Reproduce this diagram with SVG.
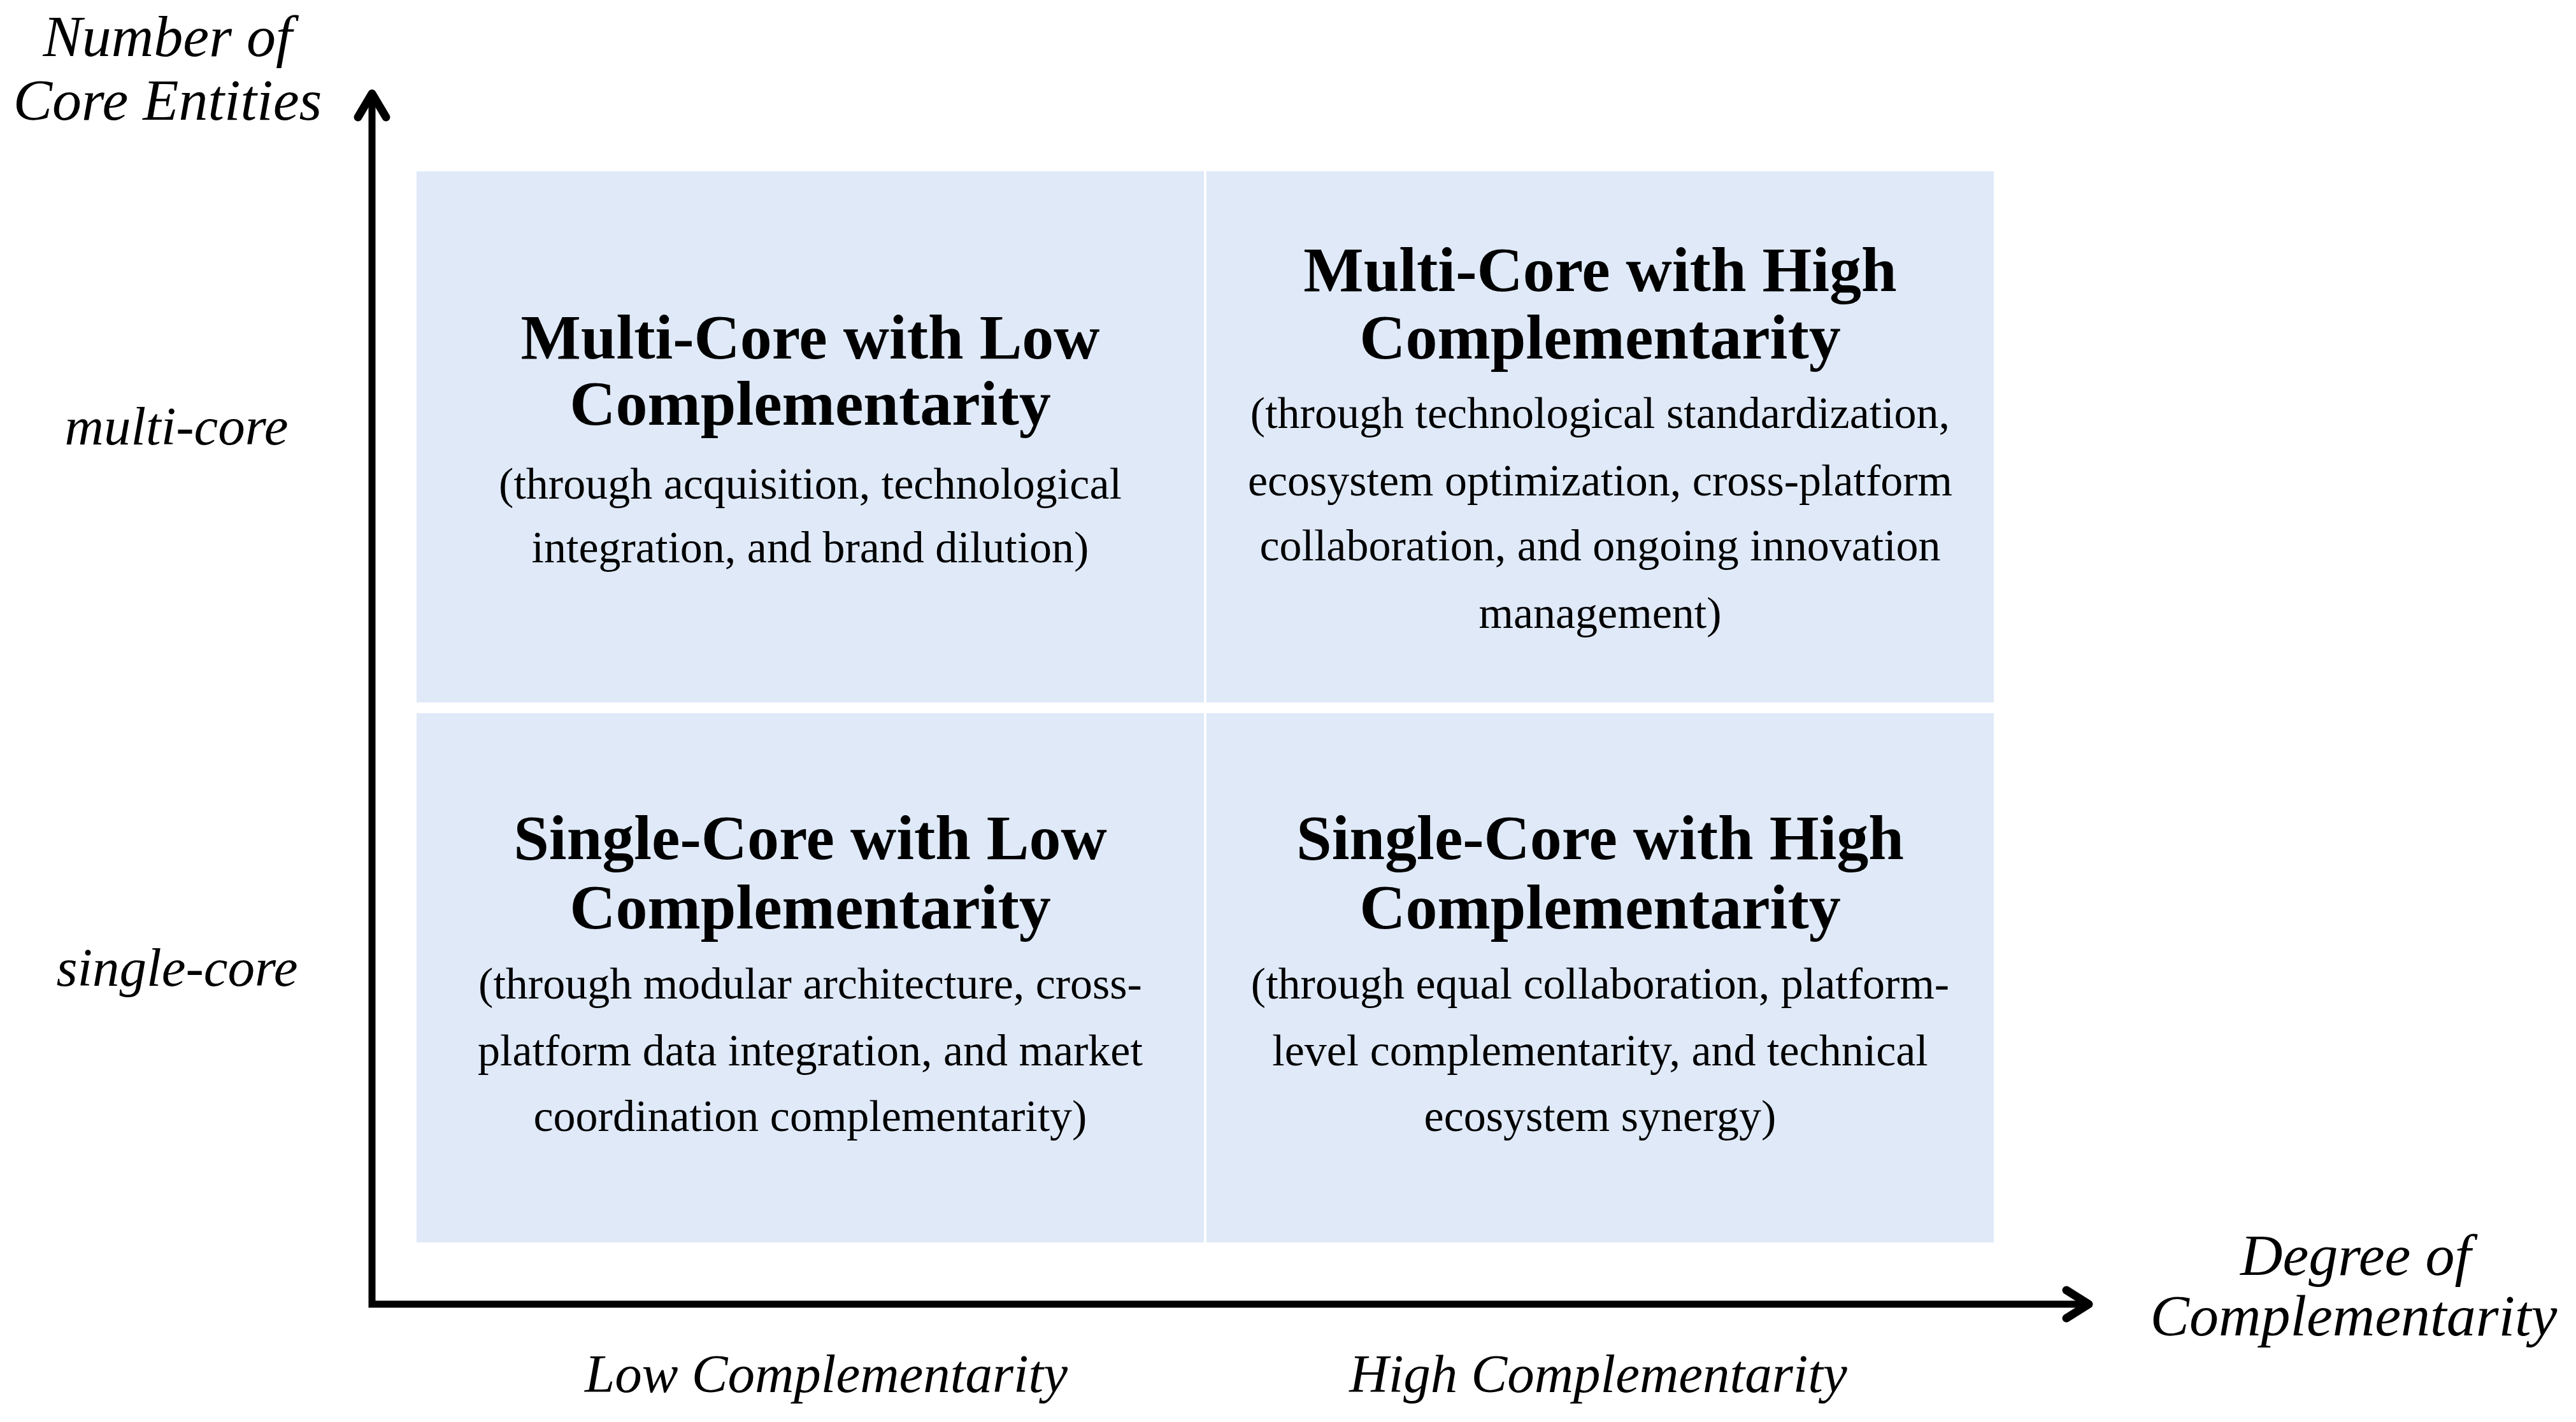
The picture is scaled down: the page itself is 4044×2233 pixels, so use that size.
<svg xmlns="http://www.w3.org/2000/svg" width="4044" height="2233" viewBox="0 0 4044 2233">
<style>
.box{fill:#DFE9F8;}
.t{font-family:"Liberation Serif","Times New Roman",serif;font-weight:bold;font-size:100px;fill:#000;text-anchor:middle;}
.b{font-family:"Liberation Serif","Times New Roman",serif;font-size:70px;fill:#000;text-anchor:middle;}
.ax{font-family:"Liberation Serif","Times New Roman",serif;font-style:italic;font-size:92px;fill:#000;text-anchor:middle;}
.lab{font-family:"Liberation Serif","Times New Roman",serif;font-style:italic;font-size:85px;fill:#000;text-anchor:middle;}
.axis{fill:none;stroke:#000;stroke-width:11;stroke-linejoin:miter;}
.head{fill:none;stroke:#000;stroke-width:13;stroke-linejoin:round;stroke-linecap:round;}
</style>
<rect width="4044" height="2233" fill="#fff"/>
<g id="node-tl">
<rect class="box" x="654" y="269" width="1236" height="834"/>
<text class="t" x="1272" y="563">Multi-Core with Low</text>
<text class="t" x="1272" y="667">Complementarity</text>
<text class="b" x="1272" y="783">(through acquisition, technological</text>
<text class="b" x="1272" y="883">integration, and brand dilution)</text>
</g>
<g id="node-tr">
<rect class="box" x="1894" y="269" width="1236" height="834"/>
<text class="t" x="2512" y="457">Multi-Core with High</text>
<text class="t" x="2512" y="563">Complementarity</text>
<text class="b" x="2512" y="672">(through technological standardization,</text>
<text class="b" x="2512" y="778">ecosystem optimization, cross-platform</text>
<text class="b" x="2512" y="880">collaboration, and ongoing innovation</text>
<text class="b" x="2512" y="986">management)</text>
</g>
<g id="node-bl">
<rect class="box" x="654" y="1120" width="1236" height="831"/>
<text class="t" x="1272" y="1349">Single-Core with Low</text>
<text class="t" x="1272" y="1458">Complementarity</text>
<text class="b" x="1272" y="1568">(through modular architecture, cross-</text>
<text class="b" x="1272" y="1673">platform data integration, and market</text>
<text class="b" x="1272" y="1776">coordination complementarity)</text>
</g>
<g id="node-br">
<rect class="box" x="1894" y="1120" width="1236" height="831"/>
<text class="t" x="2512" y="1349">Single-Core with High</text>
<text class="t" x="2512" y="1458">Complementarity</text>
<text class="b" x="2512" y="1568">(through equal collaboration, platform-</text>
<text class="b" x="2512" y="1673">level complementarity, and technical</text>
<text class="b" x="2512" y="1776">ecosystem synergy)</text>
</g>
<g id="connectors">
<polyline class="axis" points="584,150 584,2048 3278,2048"/>
<polyline class="head" points="562,184 584,147 606,184"/>
<polyline class="head" points="3244,2026 3279,2048 3244,2070"/>
</g>
<g id="labels">
<text class="ax" x="263" y="88">Number of</text>
<text class="ax" x="263" y="188">Core Entities</text>
<text class="ax" x="3698" y="2002">Degree of</text>
<text class="ax" x="3695" y="2097">Complementarity</text>
<text class="lab" x="277" y="698">multi-core</text>
<text class="lab" x="278" y="1548">single-core</text>
<text class="lab" x="1297" y="2186">Low Complementarity</text>
<text class="lab" x="2509" y="2186">High Complementarity</text>
</g>
</svg>
